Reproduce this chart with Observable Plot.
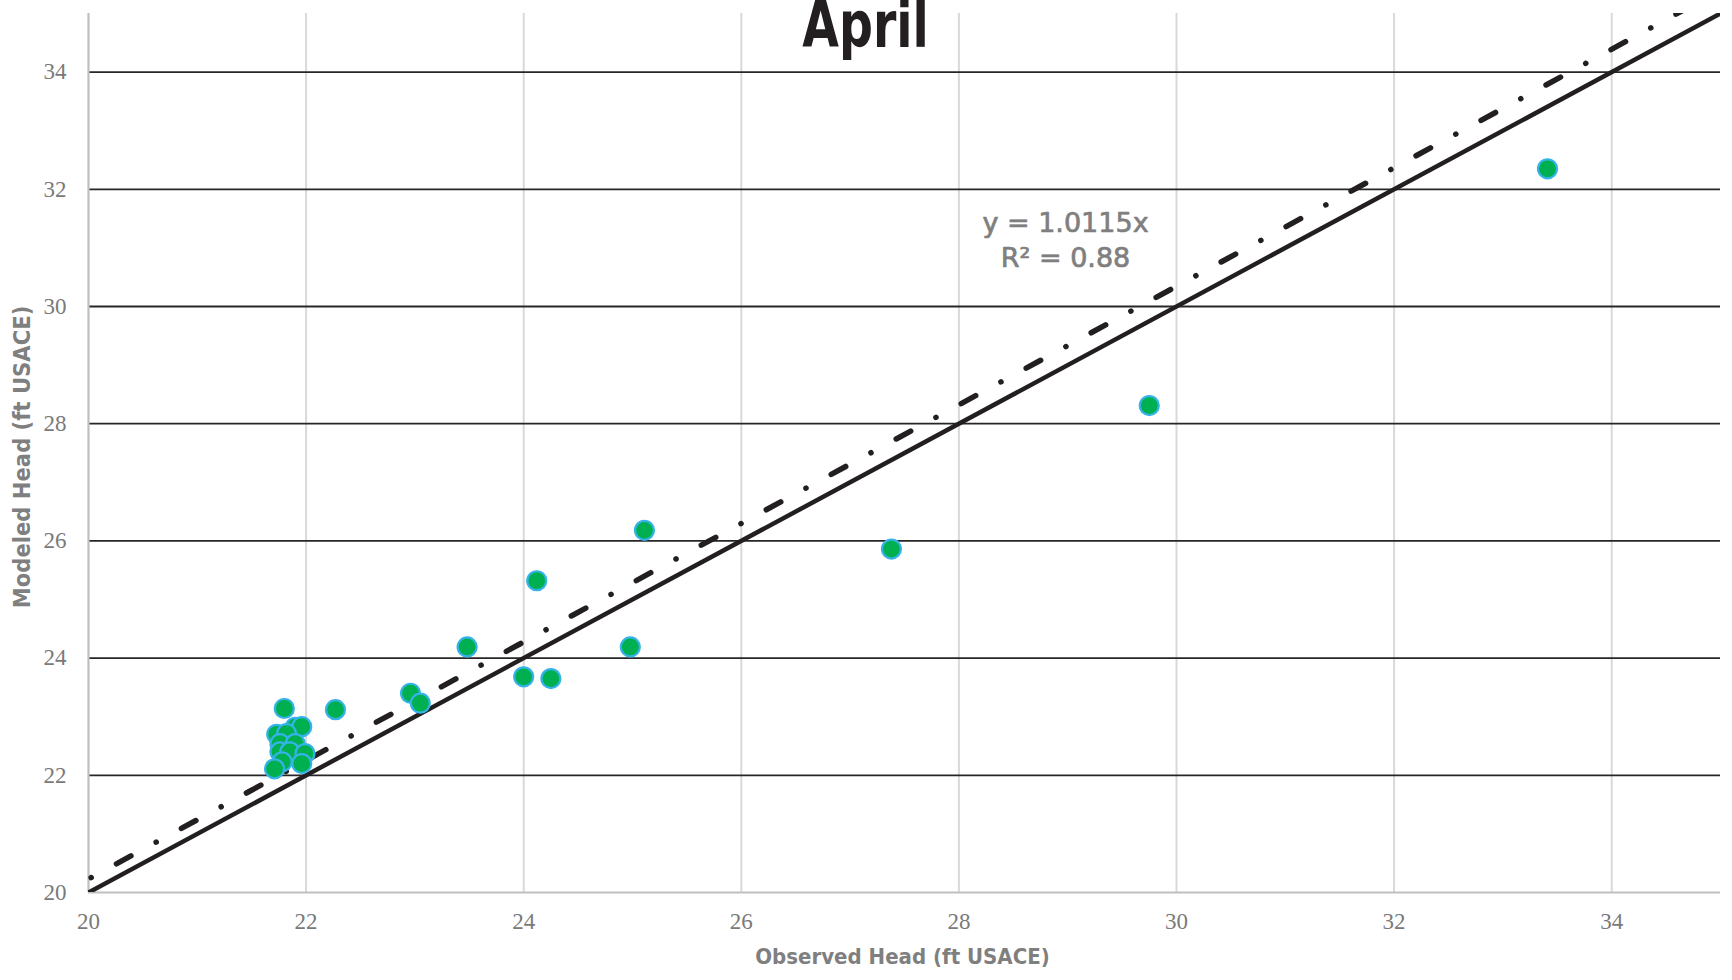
<!DOCTYPE html>
<html>
<head>
<meta charset="utf-8">
<script src="https://cdn.jsdelivr.net/npm/d3@7"></script>
<script src="https://cdn.jsdelivr.net/npm/@observablehq/plot@0.6"></script>
<style>
  html, body { margin: 0; padding: 0; background: #fff; }
  #chart { width: 1732px; height: 980px; overflow: hidden; }
</style>
</head>
<body>
<div id="chart"></div>
<script>
// Observed vs modeled heads (ft USACE)
const observed = [33.41, 29.75, 27.38, 25.11, 24.98, 24.12, 24.00, 24.25, 23.48, 22.96, 23.05, 22.27, 21.80,
  21.90, 21.96, 21.73, 21.82, 21.76, 21.90, 21.76, 21.85, 21.99, 21.78, 21.96, 21.71];
const modeled = [32.35, 28.31, 25.86, 26.18, 24.19, 25.32, 23.68, 23.65, 24.19, 23.40, 23.23, 23.12, 23.14,
  22.82, 22.83, 22.70, 22.71, 22.54, 22.54, 22.40, 22.40, 22.37, 22.23, 22.20, 22.11];
const axisTicks = [20, 22, 24, 26, 28, 30, 32, 34];
const gridTicks = [22, 24, 26, 28, 30, 32, 34];
const axisRange = [20, 35];
const trendSlope = 1.0115;
const trendLabel = ["y = 1.0115x", "R² = 0.88"];
const trendLabelPos = [28.98, 31.17];
const title = "April";
const xLabel = "Observed Head (ft USACE)";
const yLabel = "Modeled Head (ft USACE)";

const points = observed.map((o, i) => ({x: o, y: modeled[i]}));
const oneToOne = axisRange.map(v => ({x: v, y: v}));
const trend = axisRange.map(v => ({x: v, y: trendSlope * v}));

const condensed = "'Liberation Sans Narrow', 'DejaVu Sans Condensed', 'Arial Narrow', sans-serif";
const serif = "'Liberation Serif', 'DejaVu Serif', serif";

const chart = Plot.plot({
  width: 1732,
  height: 980,
  marginTop: 13,
  marginRight: 12,
  marginBottom: 88,
  marginLeft: 88,
  style: {background: "#fff", overflow: "visible"},
  x: {domain: axisRange, ticks: axisTicks},
  y: {domain: axisRange, ticks: axisTicks},
  marks: [
    Plot.ruleX(gridTicks, {x: d => d, y1: axisRange[0], y2: axisRange[1], stroke: "#d9d9d9", strokeWidth: 2}),
    Plot.ruleY(gridTicks, {y: d => d, x1: axisRange[0], x2: axisRange[1], stroke: "#262626", strokeWidth: 1.8}),
    Plot.ruleX([axisRange[0]], {x: d => d, y1: axisRange[0], y2: axisRange[1], stroke: "#bfbfbf", strokeWidth: 2.2}),
    Plot.ruleY([axisRange[0]], {y: d => d, x1: axisRange[0], x2: axisRange[1], stroke: "#bfbfbf", strokeWidth: 2.2}),
    Plot.axisX(axisTicks, {tickSize: 0, tickPadding: 20, fontSize: 23, fontFamily: serif, color: "#7a7a7a",
      tickFormat: d => String(d), label: null}),
    Plot.axisY(axisTicks, {tickSize: 0, tickPadding: 22, fontSize: 23, fontFamily: serif, color: "#7a7a7a",
      tickFormat: d => String(d), label: null}),
    Plot.line(trend, {x: "x", y: "y", stroke: "#231f20", strokeWidth: 5.5, strokeLinecap: "round",
      strokeDasharray: "16.5,28.7,0.1,28.7", strokeDashoffset: 42.2, clip: true}),
    Plot.line(oneToOne, {x: "x", y: "y", stroke: "#231f20", strokeWidth: 4.5, clip: true}),
    Plot.dot(points, {x: "x", y: "y", r: 9.5, fill: "#00b050", stroke: "#35b3e8", strokeWidth: 2.2}),
    Plot.text([trendLabel.join("\n")], {x: trendLabelPos[0], y: trendLabelPos[1], text: d => d, fontSize: 27,
      lineHeight: 1.3, fontFamily: "'DejaVu Sans', sans-serif", fill: "#7f7f7f", stroke: "#7f7f7f",
      strokeWidth: 0.7, textAnchor: "middle"}),
    Plot.text([title], {frameAnchor: "top", text: d => d, dx: -39, dy: 33, lineAnchor: "bottom", fontSize: 62,
      fontWeight: "bold", fontFamily: condensed, fill: "#231f20", className: "chart-title"}),
    Plot.text([xLabel], {frameAnchor: "bottom", text: d => d, dx: -2, dy: 64, lineAnchor: "middle",
      textAnchor: "middle", fontSize: 22, fontWeight: "bold", fontFamily: condensed, fill: "#7f7f7f"}),
    Plot.text([yLabel], {frameAnchor: "left", text: d => d, dx: -66, dy: 4, rotate: -90, lineAnchor: "middle",
      textAnchor: "middle", fontSize: 23.5, fontWeight: "bold", fontFamily: condensed, fill: "#7f7f7f"})
  ]
});
document.getElementById("chart").append(chart);

// narrow the title glyphs horizontally around their centre (condensed display face)
d3.select(chart).selectAll("text").each(function () {
  if (this.textContent !== title) return;
  const b = this.getBBox();
  const cx = b.x + b.width / 2;
  const t = this.getAttribute("transform") || "";
  this.setAttribute("transform", `${t} translate(${cx},0) scale(0.85,1.04) translate(${-cx},0)`);
});
</script>
</body>
</html>
